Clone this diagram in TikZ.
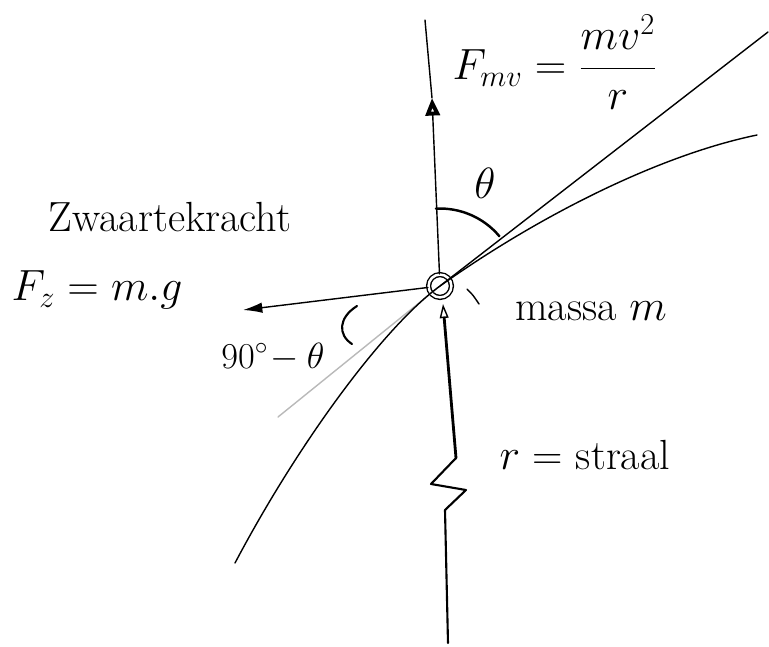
\documentclass[tikz,border=0pt]{standalone}
\usetikzlibrary{arrows.meta,calc}
\begin{document}
\begin{tikzpicture}[x=0.02cm,y=-0.02cm, line cap=round, line join=round,
  every node/.style={font=\fontsize{24}{28}\selectfont, inner sep=0pt},
  thinln/.style={line width=0.8pt},
  radln/.style={line width=1.2pt},
  arcln/.style={line width=1.4pt}]
\useasboundingbox (0,0) rectangle (769,647);
% mass
\node[circle, draw, double, line width=0.8pt, double distance=1.4pt, minimum size=13pt] (m) at (440,286) {};
% coordinates
\coordinate (vtop) at (425,20);
\coordinate (vhead) at (432,98);
\coordinate (ttop) at (768,32);
\coordinate (tbot) at (278,417);
\coordinate (cl) at (235,563);
\coordinate (cr) at (757,135);
\coordinate (gtip) at (243,310);
\coordinate (rb) at (448,643);
\coordinate (z1) at (445,510);
\coordinate (z2) at (466,490);
\coordinate (z3) at (431,484);
\coordinate (z4) at (456,458);
\coordinate (rtip) at (443,304);
% vertical force line
\draw[thinln, -{Triangle[open,length=10pt,width=8pt,line width=2.2pt]}] (m) -- (vhead);
\draw[thinln] (vhead) -- (vtop);
% tangent line
\draw[thinln] (m.center) -- (ttop);
\draw[thinln, gray!55] (m.center) -- (tbot);
% circular path
\draw[thinln] (cl) .. controls (300,440) and (385,326) .. (m.center) .. controls (540,215) and (660,155) .. (cr);
% gravity
\draw[thinln, -{Latex[length=11pt,width=6pt]}] (m) -- (gtip);
% radius
\draw[radln] (rb) -- (z1) -- (z2) -- (z3) -- (z4);
\draw[line width=1.6pt, -{Triangle[open,length=8pt,width=5pt,line width=0.8pt]}] (z4) -- (rtip);
% angle theta
\draw[arcln] ($(m.center)+(93:1.55cm)$) arc[start angle=93, end angle=40, radius=1.55cm];
% angle 90-theta
\draw[radln] (357,306) .. controls (338,318) and (338,335) .. (352,344);
% tick near mass
\draw[thinln] (467,289) .. controls (473,295) .. (479,304);
% texts
\node (fmv) at (555,62) {$F_{mv} = \displaystyle\frac{mv^2}{r}$};
\node (th) at (485,183) {$\theta$};
\node (zw) at (170,217) {Zwaartekracht};
\node (fz) at (97,290) {$F_z = m.g$};
\node (ma) at (591,311) {massa $m$};
\node (rs) at (585,455) {$r$ = straal};
\node[font=\fontsize{20}{24}\selectfont] (ang) at (273,357) {$90^\circ\!-\theta$};
\end{tikzpicture}
\end{document}
